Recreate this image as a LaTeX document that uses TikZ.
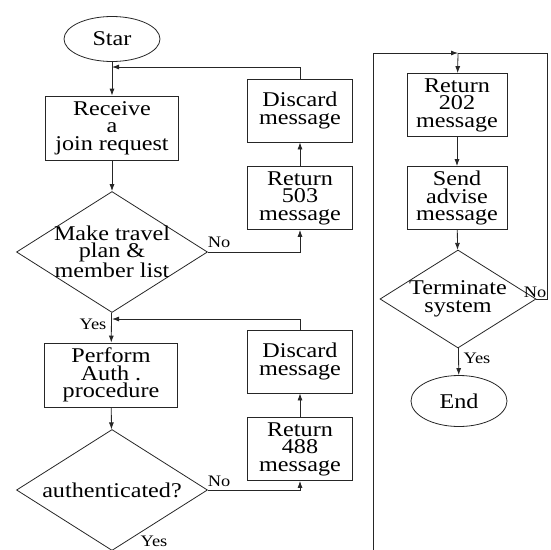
\documentclass[tikz,border=0pt]{standalone}
\usepackage{fontspec}
\setmainfont{Liberation Serif}[FakeStretch=1.15]
\usetikzlibrary{shapes,arrows.meta}

\begin{document}
\begin{tikzpicture}[x=1pt,y=-1pt]
                \tikzstyle{terminal}=[ellipse, minimum width=96pt, minimum height=45pt, inner sep=0pt, line width=0.8pt, draw=black!85, font=\fontsize{21pt}{17.5pt}\selectfont]
                \tikzstyle{process}=[rectangle, minimum width=133pt, minimum height=64pt, inner sep=0pt, line width=0.8pt, draw=black!85, align=center, font=\fontsize{21pt}{17.5pt}\selectfont]
                \tikzstyle{message}=[process, minimum width=105pt, minimum height=63pt]
                \tikzstyle{decision}=[diamond, minimum width=191pt, minimum height=121pt, line width=0.8pt, draw=black!85]
                \tikzstyle{every label}=[align=center, inner sep=0pt, font=\fontsize{21pt}{17.5pt}\selectfont]
                \tikzstyle{answer}=[inner sep=0pt, font=\fontsize{16pt}{16pt}\selectfont]
                \tikzstyle{connect}=[line width=0.8pt, draw=black!85, -{Latex[length=7pt,width=5pt]}]
                \tikzstyle{line}=[line width=0.8pt, draw=black!85]
                \useasboundingbox (0,0) rectangle (550,550);
                \node[terminal] (star) at (112,39){Star};
                \node[process] (receive) at (112,128){Receive\\a\\join request};
                \node[decision, label={center:{Make travel\\plan \&\\member list}}] (plan) at (112,252){};
                \node[process] (perform) at (111,375){Perform\\Auth .\\procedure};
                \node[decision, label={center:{authenticated?}}] (auth) at (112,490){};
                \node[message] (discard1) at (300,110.5){Discard\\message};
                \node[message] (ret503) at (300,198){Return\\503\\message};
                \node[message] (discard2) at (300,361.5){Discard\\message};
                \node[message] (ret488) at (300,449){Return\\488\\message};
    \node[message, minimum width=100pt] (ret202) at (457,105){Return\\202\\message};
                \node[message, minimum width=100pt] (advise) at (457,198){Send\\advise\\message};
                \node[decision, minimum width=156pt, minimum height=98pt, label={center:{Terminate\\system}}] (term) at (458,299){};
                \node[terminal, minimum height=51pt] (end) at (459,401){End};
                \node[answer] (no1) at (219,242){No};
                \node[answer] (yes1) at (93,324){Yes};
                \node[answer] (no2) at (219,481){No};
                \node[answer] (yes2) at (154,541){Yes};
                \node[answer] (no3) at (535,292){No};
                \node[answer] (yes3) at (477,358){Yes};
                \coordinate (join1) at (112,67);
                \coordinate (join2) at (112,319);
                \coordinate (top) at (458,53);
                \coordinate (loopin) at (373,553);
                \coordinate (loopout) at (547,53);
                \path[-] (star) edge [connect] (receive);
                \path[-] (receive) edge [connect] (plan);
                \path[-] (plan) edge [connect] (perform);
                \path[-] (perform) edge [connect] (auth);
                \path[-] (ret503) edge [connect] (discard1);
                \path[-] (ret488) edge [connect] (discard2);
                \draw[connect] (discard1.north) |- (join1);
                \draw[connect] (discard2.north) |- (join2);
                \draw[connect] (plan.east) -| (ret503.south);
                \draw[connect] (auth.east) -| (ret488.south);
                \draw[connect] (loopin) |- (top);
                \draw[line] (term.east) -| (loopout) -- (top);
                \path[-] (top) edge [connect] (ret202);
                \path[-] (ret202) edge [connect] (advise);
                \path[-] (advise) edge [connect] (term);
                \path[-] (term) edge [connect] (end);
    
    \end{tikzpicture}
\end{document}
